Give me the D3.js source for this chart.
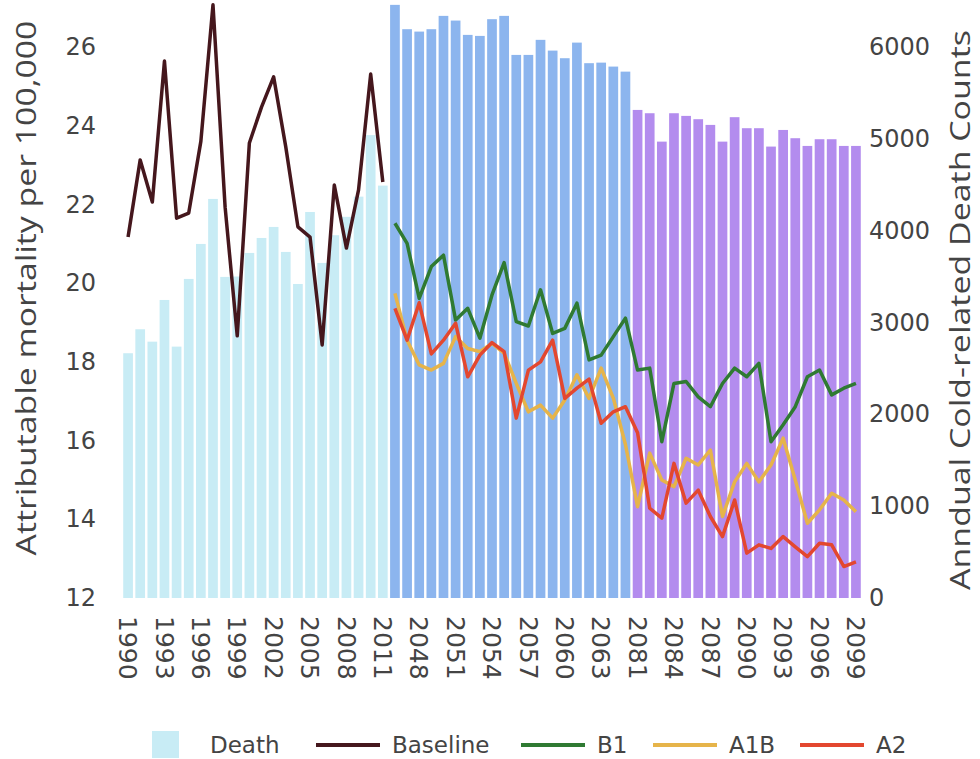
<!DOCTYPE html>
<html>
<head>
<meta charset="utf-8">
<script src="https://cdn.jsdelivr.net/npm/d3@7/dist/d3.min.js"></script>
<style>
  body { margin: 0; background: #fff; }
</style>
</head>
<body>
<svg id="chart" width="980" height="759"></svg>
<script>
// categories (three periods)
var histYears = ['1990','1991','1992','1993','1994','1995','1996','1997','1998','1999','2000',
                 '2001','2002','2003','2004','2005','2006','2007','2008','2009','2010','2011'];
var midYears = ['2046','2047','2048','2049','2050','2051','2052','2053','2054','2055',
                '2056','2057','2058','2059','2060','2061','2062','2063','2064','2065'];
var lateYears = ['2081','2082','2083','2084','2085','2086','2087','2088','2089','2090',
                 '2091','2092','2093','2094','2095','2096','2097','2098','2099'];

// annual cold-related death counts (right axis)
var histDeaths = [2665, 2926, 2791, 3245, 2737, 3474, 3855, 4345, 3496, 3500, 3757,
                  3920, 4040, 3768, 3419, 4203, 3648, 3950, 4150, 4370, 5040, 4490];
var midDeaths = [6458, 6193, 6167, 6193, 6338, 6287, 6131, 6120, 6302, 6338,
                 5913, 5913, 6077, 5960, 5877, 6047, 5823, 5829, 5786, 5731];
var lateDeaths = [5314, 5278, 4969, 5278, 5249, 5213, 5151, 4969, 5235, 5115,
                  5115, 4915, 5096, 5006, 4922, 4995, 4995, 4922, 4922];

// attributable mortality per 100,000 (left axis)
var baseline = [21.17, 23.13, 22.06, 25.64, 21.65, 21.78, 23.6, 27.07, 21.93, 18.66, 23.56,
                24.47, 25.24, 23.46, 21.43, 21.17, 18.43, 22.49, 20.89, 22.37, 25.31, 22.57];
var b1 = [21.52, 21.01, 19.61, 20.42, 20.71, 19.06, 19.36, 18.60, 19.70, 20.52,
          19.02, 18.91, 19.83, 18.72, 18.85, 19.49, 18.05, 18.17, 18.64, 19.11,
          17.79, 17.84, 15.97, 17.45, 17.50, 17.11, 16.86, 17.45, 17.84, 17.62,
          17.96, 15.97, 16.40, 16.86, 17.62, 17.79, 17.16, 17.33, 17.45];
var a1b = [19.74, 18.55, 17.92, 17.79, 17.96, 18.64, 18.34, 18.26, 18.47, 18.22,
           17.45, 16.73, 16.90, 16.57, 17.03, 17.67, 17.07, 17.84, 17.08, 15.90,
           14.32, 15.68, 15.00, 14.83, 15.55, 15.38, 15.76, 14.07, 14.95, 15.42,
           14.95, 15.38, 16.06, 15.00, 13.90, 14.24, 14.66, 14.49, 14.19];
var a2 = [19.36, 18.55, 19.50, 18.20, 18.55, 18.98, 17.62, 18.17, 18.49, 18.26,
          16.57, 17.79, 18.00, 18.55, 17.07, 17.33, 17.56, 16.44, 16.73, 16.86,
          16.20, 14.28, 14.03, 15.42, 14.41, 14.74, 14.07, 13.56, 14.49, 13.14,
          13.35, 13.26, 13.56, 13.30, 13.05, 13.39, 13.35, 12.80, 12.92];

var leftTicks = [12, 14, 16, 18, 20, 22, 24, 26];
var rightTicks = [0, 1000, 2000, 3000, 4000, 5000, 6000];

var fontTick = '"DejaVu Sans", Verdana, sans-serif';
var fontTitle = '"Open Sans", sans-serif';
var textColor = '#444';

// plot area
var pLeft = 122, pRight = 862, pTop = 1, pBottom = 598;

var svg = d3.select('#chart');

var allYears = histYears.concat(midYears, lateYears);
var futureYears = midYears.concat(lateYears);

var x = d3.scaleBand()
    .domain(allYears)
    .range([pLeft, pRight])
    .paddingInner(0.2)
    .paddingOuter(0.1);

var yRight = d3.scaleLinear().domain([0, 6500]).range([pBottom, pTop]);
var yLeft = d3.scaleLinear().domain([12, 12 + 6500 * 14 / 6000]).range([pBottom, pTop]);

// bars, one group per period
var barSets = [
    { years: histYears, values: histDeaths, color: '#c8ecf5' },
    { years: midYears, values: midDeaths, color: '#8cb5ee' },
    { years: lateYears, values: lateDeaths, color: '#b38cee' }
];
var barG = svg.append('g');
barSets.forEach(function (s) {
    barG.selectAll(null)
        .data(s.years.map(function (yr, i) { return { year: yr, v: s.values[i] }; }))
        .enter()
        .append('rect')
        .attr('x', function (d) { return x(d.year); })
        .attr('width', x.bandwidth())
        .attr('y', function (d) { return yRight(d.v); })
        .attr('height', function (d) { return pBottom - yRight(d.v); })
        .attr('fill', s.color);
});

// lines
var lineGen = d3.line()
    .x(function (d) { return x(d.year) + x.bandwidth() / 2; })
    .y(function (d) { return yLeft(d.v); });

var lineSets = [
    { name: 'Baseline', years: histYears, values: baseline, color: '#45171d' },
    { name: 'B1', years: futureYears, values: b1, color: '#2f7a32' },
    { name: 'A1B', years: futureYears, values: a1b, color: '#e6b44a' },
    { name: 'A2', years: futureYears, values: a2, color: '#e3472f' }
];
var lineG = svg.append('g');
lineSets.forEach(function (s) {
    lineG.append('path')
        .datum(s.years.map(function (yr, i) { return { year: yr, v: s.values[i] }; }))
        .attr('d', lineGen)
        .attr('fill', 'none')
        .attr('stroke', s.color)
        .attr('stroke-width', 3.5)
        .attr('stroke-linejoin', 'round');
});

// axes
function styleAxis(g) {
    g.select('.domain').remove();
    g.selectAll('.tick line').remove();
    g.selectAll('.tick text')
        .attr('fill', textColor)
        .style('font-family', fontTick)
        .style('font-size', '24px');
}

svg.append('g')
    .attr('transform', 'translate(' + pLeft + ',0)')
    .call(d3.axisLeft(yLeft).tickValues(leftTicks).tickSize(0).tickPadding(26))
    .call(styleAxis);

svg.append('g')
    .attr('transform', 'translate(' + pRight + ',0)')
    .call(d3.axisRight(yRight).tickValues(rightTicks).tickFormat(d3.format('d'))
        .tickSize(0).tickPadding(7))
    .call(styleAxis);

var xAxis = svg.append('g')
    .attr('transform', 'translate(0,' + pBottom + ')')
    .call(d3.axisBottom(x)
        .tickValues(allYears.filter(function (d, i) { return i % 3 === 0; }))
        .tickSize(0))
    .call(styleAxis);
xAxis.selectAll('.tick text')
    .style('font-size', '25px')
    .attr('transform', 'rotate(90)')
    .attr('x', 18)
    .attr('y', 0)
    .attr('dy', '0.35em')
    .attr('text-anchor', 'start');

// axis titles, stretched along their length to the span they take in the chart
function axisTitle(cx, cy, label, span) {
    var t = svg.append('text')
        .attr('text-anchor', 'middle')
        .attr('fill', textColor)
        .style('font-family', fontTitle)
        .style('font-size', '27px')
        .text(label);
    var len = t.node().getComputedTextLength();
    t.attr('transform', 'translate(' + cx + ',' + cy + ') rotate(-90) scale(' + (span / len) + ',1)');
}
axisTitle(36, 288, 'Attributable mortality per 100,000', 535);
axisTitle(970, 310, 'Anndual Cold-related Death Counts', 560);

// legend
var legend = svg.append('g').style('font-family', fontTick).style('font-size', '23px');
legend.append('rect')
    .attr('x', 152).attr('y', 731).attr('width', 27).attr('height', 27)
    .attr('fill', barSets[0].color);
legend.append('text').attr('x', 210).attr('y', 753).attr('fill', textColor).text('Death');

var legendPos = [316, 521, 653, 800];
lineSets.forEach(function (s, i) {
    var lx = legendPos[i];
    legend.append('line')
        .attr('x1', lx).attr('x2', lx + 64)
        .attr('y1', 745).attr('y2', 745)
        .attr('stroke', s.color).attr('stroke-width', 4);
    legend.append('text')
        .attr('x', lx + 76).attr('y', 753)
        .attr('fill', textColor)
        .text(s.name);
});
</script>
</body>
</html>
